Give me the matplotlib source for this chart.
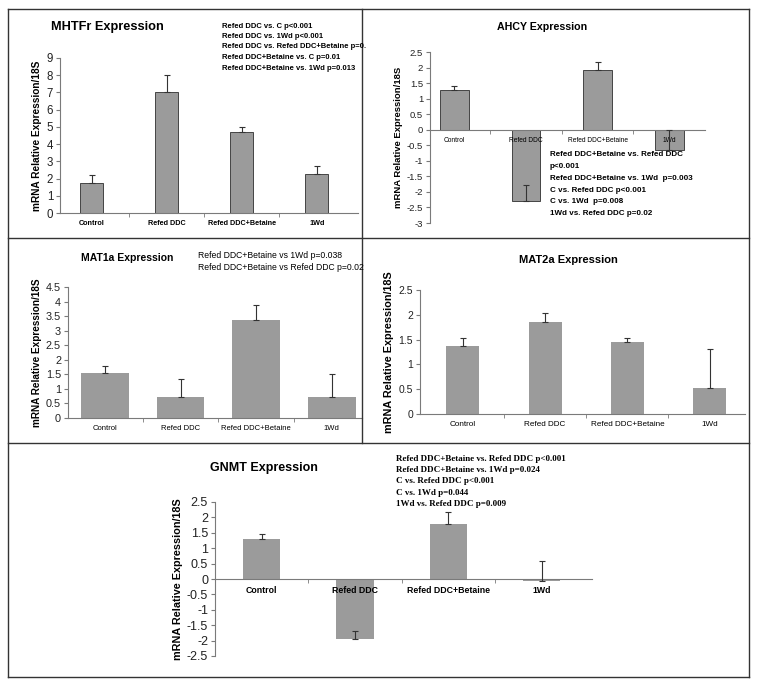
import matplotlib.pyplot as plt
import numpy as np
from matplotlib.lines import Line2D

# Datos
categories = ['Control', 'Refed DDC', 'Refed DDC+Betaine', '1Wd']

mhtfr_values = [1.75, 7.05, 4.7, 2.25]
mhtfr_err = [0.45, 0.95, 0.27, 0.5]
ahcy_values = [1.28, -2.28, 1.93, -0.65]
ahcy_err = [0.14, 0.5, 0.25, 0.65]
mat1a_values = [1.55, 0.72, 3.35, 0.72]
mat1a_err = [0.25, 0.63, 0.53, 0.8]
mat2a_values = [1.38, 1.86, 1.46, 0.52]
mat2a_err = [0.15, 0.17, 0.07, 0.79]
gnmt_values = [1.3, -1.95, 1.8, -0.05]
gnmt_err = [0.15, 0.27, 0.38, 0.65]

mhtfr_notes = ['Refed DDC vs. C p<0.001',
               'Refed DDC vs. 1Wd p<0.001',
               'Refed DDC vs. Refed DDC+Betaine p=0.',
               'Refed DDC+Betaine vs. C p=0.01',
               'Refed DDC+Betaine vs. 1Wd p=0.013']
ahcy_notes = ['Refed DDC+Betaine vs. Refed DDC',
              'p<0.001',
              'Refed DDC+Betaine vs. 1Wd  p=0.003',
              'C vs. Refed DDC p<0.001',
              'C vs. 1Wd  p=0.008',
              '1Wd vs. Refed DDC p=0.02']
mat1a_notes = ['Refed DDC+Betaine vs 1Wd p=0.038',
               'Refed DDC+Betaine vs Refed DDC p=0.02']
gnmt_notes = ['Refed DDC+Betaine vs. Refed DDC p<0.001',
              'Refed DDC+Betaine vs. 1Wd p=0.024',
              'C vs. Refed DDC p<0.001',
              'C vs. 1Wd p=0.044',
              '1Wd vs. Refed DDC p=0.009']

plt.rcParams['font.family'] = ['Liberation Sans', 'DejaVu Sans']

W, H = 761, 690
fig = plt.figure(figsize=(W / 100, H / 100), dpi=100)

BAR = '#9b9b9b'
AXC = '#7a7a7a'
YLAB = 'mRNA Relative Expression/18S'


def px_axes(left, top, right, bottom):
    return fig.add_axes([left / W, 1 - bottom / H, (right - left) / W, (bottom - top) / H])


def fx(x):
    return x / W


def fy(y):
    return 1 - y / H


def draw_panel(ax, values, err, ylim, step, xlim, width, edge, ytick_size,
               xtick_size, xtick_bold, ylab_size):
    # la posicion del eje x va primero: set_position reinicia los ticks
    for s in ['top', 'right']:
        ax.spines[s].set_visible(False)
    ax.spines['bottom'].set_position(('data', 0))
    x = np.arange(len(categories))
    ax.bar(x, values, width=width, color=BAR, edgecolor=edge, linewidth=0.7, zorder=1)
    ax.errorbar(x, values, yerr=[np.zeros(len(err)), err], fmt='none',
                ecolor='#333333', elinewidth=0.8, capsize=2.5, capthick=0.8, zorder=3)
    ax.set_xlim(*xlim)
    ax.set_ylim(*ylim)
    ticks = np.arange(ylim[0], ylim[1] + step / 2, step)
    ax.set_yticks(ticks)
    ax.set_yticklabels(['%g' % t for t in ticks], fontsize=ytick_size, color='#222222')
    ax.set_xticks(x)
    ax.set_xticklabels(categories, fontsize=xtick_size,
                       fontweight='bold' if xtick_bold else 'normal')
    ax.set_xticks([0.5, 1.5, 2.5], minor=True)
    ax.tick_params(axis='x', which='major', length=0, pad=5)
    ax.tick_params(axis='x', which='minor', length=3, direction='out', color=AXC)
    ax.tick_params(axis='y', length=3, direction='out', color=AXC, pad=2)
    ax.spines['left'].set_bounds(ylim[0], ylim[1])
    for s in ['left', 'bottom']:
        ax.spines[s].set_color(AXC)
        ax.spines[s].set_linewidth(0.8)
    ax.set_ylabel(YLAB, fontsize=ylab_size, fontweight='bold', labelpad=3)
    ax.patch.set_alpha(0)


# MHTFr
ax1 = px_axes(60, 58, 358, 213)
draw_panel(ax1, mhtfr_values, mhtfr_err, (0, 9), 1, (-0.42, 3.55), 0.31, '#444444',
           8.3, 5.2, True, 7.3)
fig.text(fx(51), fy(27), 'MHTFr Expression', fontsize=9.2, fontweight='bold', va='center')
for i, t in enumerate(mhtfr_notes):
    fig.text(fx(222), fy(26 + i * 10.5), t, fontsize=5.5, fontweight='bold', va='center')

# AHCY
ax2 = px_axes(430, 52, 705, 223)
draw_panel(ax2, ahcy_values, ahcy_err, (-3, 2.5), 0.5, (-0.34, 3.5), 0.4, '#444444',
           6.8, 4.8, False, 6.8)
fig.text(fx(542), fy(27), 'AHCY Expression', fontsize=7.7, fontweight='bold',
         ha='center', va='center')
for i, t in enumerate(ahcy_notes):
    fig.text(fx(550), fy(155 + i * 11.7), t, fontsize=5.8, fontweight='bold', va='center')

# MAT1a
ax3 = px_axes(68, 287, 362, 418)
draw_panel(ax3, mat1a_values, mat1a_err, (0, 4.5), 0.5, (-0.49, 3.4), 0.63, 'none',
           7.8, 5.5, False, 7.2)
fig.text(fx(127), fy(258), 'MAT1a Expression', fontsize=7.5, fontweight='bold',
         ha='center', va='center')
for i, t in enumerate(mat1a_notes):
    fig.text(fx(198), fy(255 + i * 12.5), t, fontsize=6.2, va='center')

# MAT2a
ax4 = px_axes(420, 290, 745, 414)
draw_panel(ax4, mat2a_values, mat2a_err, (0, 2.5), 0.5, (-0.52, 3.43), 0.4, 'none',
           7.5, 5.9, False, 7.8)
fig.text(fx(568), fy(260), 'MAT2a Expression', fontsize=8, fontweight='bold',
         ha='center', va='center')

# GNMT
ax5 = px_axes(215, 502, 592, 656)
draw_panel(ax5, gnmt_values, gnmt_err, (-2.5, 2.5), 0.5, (-0.5, 3.54), 0.4, 'none',
           9, 6.3, True, 7.8)
fig.text(fx(264), fy(468), 'GNMT Expression', fontsize=9, fontweight='bold',
         ha='center', va='center')
for i, t in enumerate(gnmt_notes):
    fig.text(fx(396), fy(459 + i * 11.2), t, fontsize=6.5, fontweight='bold',
             family=['Liberation Serif', 'DejaVu Serif'], va='center')

# Marcos de los paneles
lines = [((8, 749), (9, 9)), ((8, 749), (238, 238)), ((8, 749), (443, 443)),
         ((8, 749), (677, 677)), ((8, 8), (9, 677)), ((749, 749), (9, 677)),
         ((362, 362), (9, 443))]
for xs, ys in lines:
    fig.add_artist(Line2D([fx(xs[0]), fx(xs[1])], [fy(ys[0]), fy(ys[1])],
                          color='#333333', linewidth=1.0))

fig.savefig('out.png', dpi=100)
